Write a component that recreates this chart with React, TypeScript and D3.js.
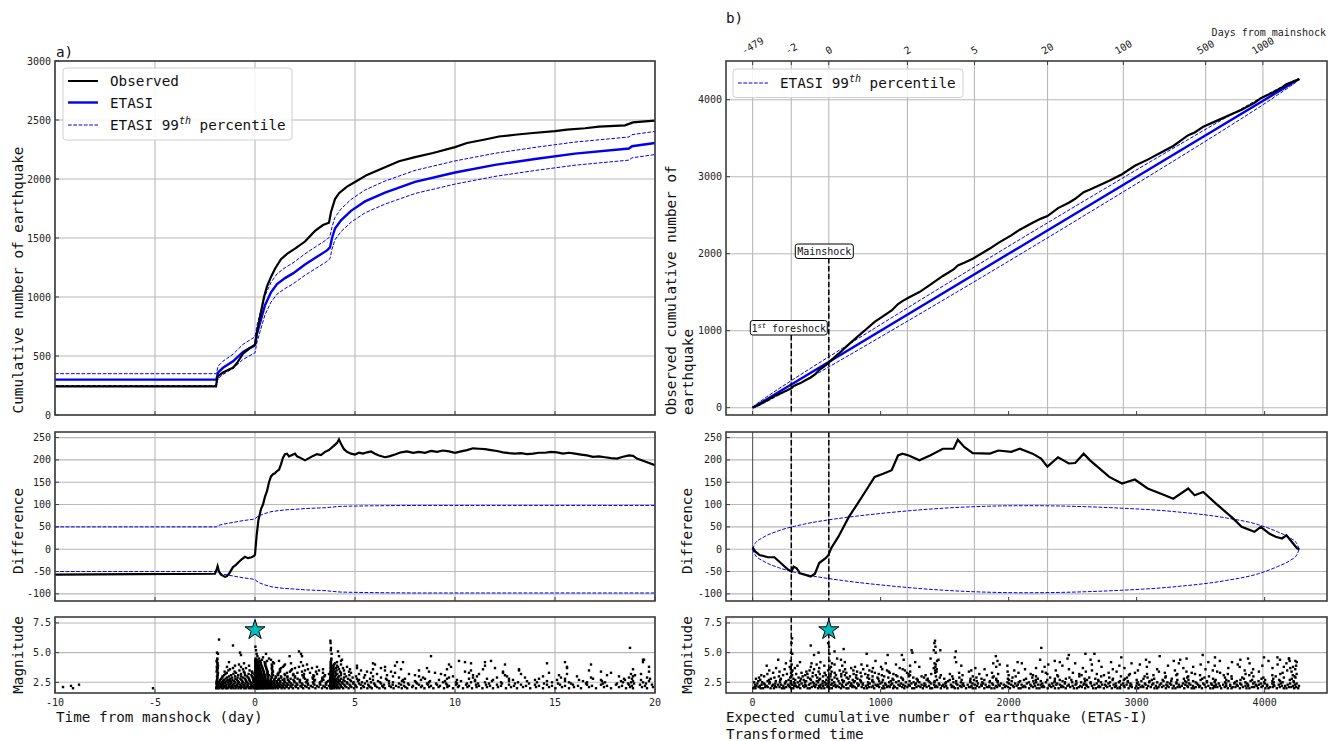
import React from "react";
import * as d3 from "d3";

// ---------------- DATA ----------------
// Panel a) top: cumulative counts vs time from mainshock (days)
const leftObsT = [-10, -1.95, -1.9, -1.85, -1.6, -1.3, -1.1, -0.9, -0.6, -0.3, -0.05, 0, 0.1, 0.25, 0.45, 0.6, 0.8, 1.0, 1.3, 1.6, 2.0, 2.5, 3.0, 3.4, 3.7, 3.8, 4.0, 4.2, 4.6, 5.0, 5.6, 6.5, 7.2, 8.0, 8.9, 10.0, 10.6, 11.5, 12.2, 13.0, 13.9, 15.0, 15.6, 16.5, 17.2, 18.5, 18.9, 19.5, 20];
const leftObsN = [242, 242, 300, 330, 360, 385, 400, 440, 520, 560, 585, 595, 700, 830, 1000, 1090, 1170, 1240, 1320, 1365, 1410, 1470, 1560, 1610, 1630, 1720, 1830, 1880, 1935, 1975, 2035, 2100, 2150, 2185, 2220, 2270, 2305, 2335, 2360, 2375, 2390, 2405, 2418, 2430, 2444, 2455, 2480, 2488, 2495];
const leftEtasT = [-10, -2.0, -1.93, -1.85, -1.6, -1.1, -0.6, -0.1, 0, 0.1, 0.25, 0.5, 0.8, 1.1, 1.5, 1.9, 2.5, 3.0, 3.6, 3.75, 3.85, 4.0, 4.3, 4.8, 5.5, 6.5, 8.0, 10.0, 12.0, 14.0, 16.0, 18.7, 18.85, 20];
const leftEtasN = [300, 300, 300, 360, 400, 455, 535, 585, 595, 690, 780, 930, 1040, 1110, 1160, 1200, 1275, 1330, 1395, 1420, 1500, 1580, 1650, 1730, 1810, 1885, 1975, 2055, 2120, 2170, 2215, 2258, 2278, 2305];
const leftBound = [50, 50, 50, 53, 56, 60, 64, 67, 68, 72, 76, 80, 84, 86, 88, 89, 91, 92, 93, 94, 94, 95, 96, 96.5, 97, 97.5, 98, 98, 98, 98, 98, 98, 98, 98];

// Panel a) middle: difference (observed - ETASI)
const leftDiffT = [-10, -6, -2.0, -1.92, -1.87, -1.8, -1.7, -1.5, -1.4, -1.3, -1.1, -0.95, -0.8, -0.65, -0.5, -0.35, -0.17, -0.05, 0, 0.08, 0.17, 0.3, 0.4, 0.5, 0.6, 0.7, 0.8, 0.9, 1.0, 1.1, 1.2, 1.3, 1.4, 1.5, 1.6, 1.7, 1.8, 1.9, 2.0, 2.1, 2.3, 2.5, 2.7, 2.9, 3.1, 3.3, 3.5, 3.7, 3.8, 3.95, 4.1, 4.2, 4.3, 4.45, 4.6, 4.8, 5.0, 5.2, 5.4, 5.6, 5.8, 6.0, 6.2, 6.5, 6.7, 7.0, 7.3, 7.6, 7.9, 8.2, 8.5, 8.8, 9.1, 9.4, 9.7, 10.0, 10.3, 10.6, 10.9, 11.2, 11.5, 11.8, 12.1, 12.4, 12.7, 13.0, 13.3, 13.6, 13.9, 14.2, 14.5, 14.8, 15.1, 15.4, 15.7, 16.0, 16.3, 16.6, 16.9, 17.2, 17.5, 17.8, 18.1, 18.4, 18.7, 18.9, 19.1, 19.4, 19.7, 20];
const leftDiffV = [-57, -56, -55, -46, -38, -50, -57, -62, -60, -55, -40, -35, -28, -22, -17, -20, -18, -15, -12, 30, 65, 90, 100, 118, 130, 150, 163, 168, 170, 175, 178, 190, 205, 213, 214, 208, 210, 212, 214, 208, 204, 199, 204, 209, 213, 211, 218, 222, 226, 232, 238, 246, 236, 224, 218, 214, 212, 216, 214, 217, 219, 214, 210, 206, 208, 212, 217, 219, 216, 218, 216, 220, 218, 221, 219, 216, 219, 222, 226, 225, 224, 222, 220, 217, 215, 214, 215, 213, 214, 216, 216, 218, 217, 214, 216, 214, 212, 210, 207, 208, 206, 204, 203, 207, 210, 209, 203, 198, 193, 188];

// Panel b): difference vs transformed time, and 99th percentile half-width
const rightDiffTau = [0, 20, 54, 120, 170, 220, 270, 304, 320, 344, 370, 420, 453, 487, 520, 570, 593, 613, 670, 753, 820, 887, 953, 1020, 1086, 1136, 1170, 1220, 1303, 1386, 1486, 1570, 1603, 1653, 1720, 1853, 1920, 2020, 2087, 2187, 2253, 2303, 2386, 2470, 2520, 2586, 2636, 2786, 2886, 2986, 3086, 3220, 3286, 3403, 3453, 3520, 3620, 3753, 3820, 3920, 3970, 4036, 4086, 4136, 4170, 4253, 4270];
const rightDiffV = [4, -5, -13, -18, -18, -31, -44, -50, -39, -43, -54, -58, -61, -55, -31, -20, -13, 2, 28, 73, 102, 132, 162, 169, 177, 210, 214, 210, 199, 210, 225, 225, 245, 229, 215, 214, 221, 218, 225, 214, 203, 185, 206, 192, 193, 214, 199, 162, 147, 156, 136, 121, 113, 136, 121, 128, 102, 69, 50, 39, 50, 35, 28, 24, 31, 2, 0];
const rightBoundTau = [0, 20, 80, 200, 400, 700, 1000, 1500, 2135, 2800, 3300, 3700, 3950, 4100, 4200, 4250, 4270];
const rightBoundV = [0, 13, 26, 41, 56, 70, 80, 92, 97.5, 93, 84, 70, 55, 39, 25, 13, 0];
const rightEtasTau = [0, 4270];

// Top axis of panel b): days from mainshock and their transformed-time positions
const daysTickLabels = ["-479", "-2", "0", "2", "5", "20", "100", "500", "1000"];
const daysTickTau = [0, 302, 595, 1209, 1733, 2304, 2896, 3539, 3986];
const foreshockTau = 302;
const mainshockTau = 595;
const mainshockTime = 0;
const mainshockMag = 6.9;

// Earthquake magnitudes (catalog resolution 0.1)
const magLevels = [2.0, 2.1, 2.2, 2.3, 2.4, 2.5, 2.6, 2.7, 2.8, 2.9, 3.0, 3.1, 3.2, 3.3, 3.4, 3.5, 3.6, 3.7, 3.8, 3.9, 4.0, 4.1, 4.2, 4.3, 4.4, 4.5];
const leftTimesByLevel: number[][] = [
  [-9.1, -5.1, -1.94, -1.87, -1.79, -1.66, -1.58, -1.44, -1.37, -1.21, -1.08, -0.97, -0.83, -0.71, -0.55, -0.46, -0.31, -0.19, -0.07, 0.02, 0.05, 0.09, 0.12, 0.17, 0.21, 0.28, 0.34, 0.39, 0.47, 0.55, 0.62, 0.7, 0.81, 0.9, 1.02, 1.15, 1.33, 1.48, 1.69, 1.9, 2.16, 2.41, 2.7, 3.02, 3.35, 3.6, 3.77, 3.8, 3.86, 3.95, 4.08, 4.22, 4.41, 4.68, 4.95, 5.31, 5.62, 5.84, 6.22, 6.5, 6.93, 7.34, 7.61, 8.05, 8.47, 8.92, 9.45, 9.9, 10.4, 10.85, 11.37, 11.9, 12.55, 13.1, 13.76, 14.4, 15.02, 15.7, 16.3, 17.05, 17.8, 18.55, 18.9, 19.6],
  [-9.6, -1.92, -1.84, -1.74, -1.63, -1.52, -1.33, -1.25, -1.12, -0.94, -0.78, -0.63, -0.42, -0.24, -0.1, 0.01, 0.03, 0.07, 0.1, 0.15, 0.19, 0.24, 0.3, 0.36, 0.44, 0.51, 0.58, 0.66, 0.76, 0.86, 0.98, 1.09, 1.24, 1.41, 1.59, 1.82, 2.05, 2.33, 2.58, 2.88, 3.18, 3.49, 3.76, 3.79, 3.84, 3.91, 4.02, 4.15, 4.33, 4.57, 4.82, 5.08, 5.45, 5.77, 6.1, 6.41, 6.8, 7.18, 7.52, 7.86, 8.3, 8.71, 9.18, 9.62, 10.15, 10.62, 11.08, 11.6, 12.15, 12.8, 13.4, 14.05, 14.7, 15.35, 15.95, 16.7, 17.45, 18.2, 18.75, 19.35, 19.9],
  [-9.2, -1.91, -1.82, -1.69, -1.55, -1.46, -1.29, -1.15, -1.0, -0.88, -0.69, -0.52, -0.36, -0.15, 0.0, 0.04, 0.06, 0.11, 0.14, 0.2, 0.25, 0.31, 0.38, 0.45, 0.53, 0.6, 0.68, 0.79, 0.93, 1.06, 1.2, 1.37, 1.55, 1.77, 2.02, 2.27, 2.51, 2.79, 3.1, 3.42, 3.7, 3.78, 3.83, 3.89, 3.99, 4.12, 4.29, 4.5, 4.77, 5.03, 5.4, 5.7, 6.02, 6.36, 6.72, 7.05, 7.45, 7.9, 8.35, 8.8, 9.25, 9.7, 10.2, 10.7, 11.2, 11.75, 12.3, 12.95, 13.55, 14.2, 14.85, 15.5, 16.15, 16.85, 17.6, 18.35, 18.85, 19.5],
  [-8.8, -1.9, -1.81, -1.7, -1.59, -1.42, -1.27, -1.1, -0.9, -0.74, -0.58, -0.38, -0.21, -0.04, 0.02, 0.05, 0.1, 0.13, 0.18, 0.23, 0.29, 0.35, 0.42, 0.5, 0.57, 0.65, 0.74, 0.85, 0.99, 1.13, 1.28, 1.46, 1.66, 1.88, 2.12, 2.38, 2.66, 2.97, 3.27, 3.56, 3.77, 3.81, 3.87, 3.96, 4.1, 4.27, 4.47, 4.73, 5.0, 5.28, 5.66, 6.0, 6.45, 6.88, 7.3, 7.7, 8.2, 8.65, 9.1, 9.6, 10.05, 10.55, 11.05, 11.55, 12.1, 12.7, 13.3, 14.0, 14.6, 15.25, 15.9, 16.6, 17.3, 18.05, 18.7, 19.25, 19.85],
  [-1.93, -1.83, -1.72, -1.61, -1.48, -1.31, -1.19, -1.03, -0.86, -0.67, -0.49, -0.33, -0.16, 0.01, 0.04, 0.08, 0.12, 0.16, 0.22, 0.27, 0.33, 0.4, 0.48, 0.56, 0.64, 0.72, 0.83, 0.95, 1.08, 1.22, 1.4, 1.6, 1.8, 2.08, 2.35, 2.64, 2.92, 3.24, 3.54, 3.76, 3.8, 3.85, 3.93, 4.04, 4.2, 4.38, 4.62, 4.9, 5.2, 5.5, 5.95, 6.3, 6.7, 7.2, 7.65, 8.1, 8.6, 9.05, 9.55, 10.1, 10.6, 11.15, 11.7, 12.35, 13.0, 13.7, 14.45, 15.15, 15.8, 16.55, 17.4, 18.1, 18.65, 18.95, 19.55],
  [-1.92, -1.8, -1.65, -1.51, -1.36, -1.18, -0.99, -0.81, -0.6, -0.41, -0.22, -0.06, 0.02, 0.06, 0.09, 0.14, 0.19, 0.26, 0.32, 0.41, 0.49, 0.59, 0.69, 0.8, 0.94, 1.1, 1.27, 1.5, 1.73, 1.98, 2.25, 2.55, 2.9, 3.25, 3.58, 3.77, 3.83, 3.9, 4.0, 4.14, 4.35, 4.6, 4.93, 5.35, 5.8, 6.25, 6.9, 7.45, 8.05, 8.7, 9.4, 10.05, 10.8, 11.5, 12.3, 13.15, 14.1, 14.85, 15.7, 16.6, 17.5, 18.4, 18.8, 19.4],
  [-1.91, -1.77, -1.6, -1.43, -1.24, -1.05, -0.85, -0.64, -0.44, -0.26, -0.08, 0.01, 0.05, 0.1, 0.15, 0.21, 0.28, 0.37, 0.46, 0.55, 0.66, 0.78, 0.92, 1.07, 1.25, 1.47, 1.7, 1.96, 2.24, 2.6, 2.96, 3.33, 3.65, 3.79, 3.86, 3.95, 4.07, 4.24, 4.48, 4.8, 5.15, 5.6, 6.15, 6.7, 7.35, 8.0, 8.75, 9.5, 10.3, 11.0, 11.85, 12.7, 13.6, 14.6, 15.5, 16.4, 17.35, 18.3, 18.9, 19.7],
  [-1.9, -1.74, -1.56, -1.34, -1.13, -0.9, -0.68, -0.47, -0.28, -0.09, 0.02, 0.07, 0.12, 0.18, 0.25, 0.34, 0.43, 0.53, 0.65, 0.79, 0.96, 1.16, 1.38, 1.64, 1.92, 2.25, 2.62, 3.0, 3.42, 3.74, 3.82, 3.9, 4.01, 4.18, 4.42, 4.75, 5.2, 5.9, 6.6, 7.4, 8.3, 9.2, 10.1, 11.0, 11.9, 12.9, 14.0, 15.1, 16.2, 17.3, 18.5, 19.3],
  [-1.89, -1.69, -1.47, -1.25, -0.98, -0.73, -0.5, -0.3, -0.1, 0.01, 0.04, 0.09, 0.16, 0.23, 0.31, 0.41, 0.52, 0.65, 0.8, 0.98, 1.2, 1.47, 1.78, 2.13, 2.5, 2.9, 3.36, 3.76, 3.84, 3.94, 4.08, 4.3, 4.65, 5.1, 5.75, 6.55, 7.5, 8.5, 9.6, 10.7, 11.6, 12.7, 14.2, 15.5, 16.9, 18.45, 18.85, 19.75],
  [-1.88, -1.64, -1.4, -1.14, -0.87, -0.59, -0.33, -0.11, 0.03, 0.08, 0.13, 0.2, 0.29, 0.39, 0.51, 0.66, 0.84, 1.05, 1.31, 1.62, 2.0, 2.43, 2.88, 3.38, 3.77, 3.86, 3.97, 4.15, 4.45, 4.88, 5.45, 6.3, 7.2, 8.4, 9.7, 10.9, 12.1, 13.5, 15.3, 16.8, 18.7, 19.6],
  [-1.9, -1.62, -1.3, -0.99, -0.7, -0.4, -0.14, 0.02, 0.06, 0.12, 0.19, 0.28, 0.38, 0.5, 0.64, 0.82, 1.03, 1.3, 1.62, 2.0, 2.44, 2.95, 3.47, 3.78, 3.87, 3.99, 4.2, 4.55, 5.05, 5.9, 6.9, 8.2, 9.9, 11.1, 12.6, 14.4, 16.1, 18.2, 18.9],
  [-1.86, -1.55, -1.2, -0.84, -0.5, -0.18, 0.01, 0.05, 0.11, 0.18, 0.27, 0.38, 0.52, 0.69, 0.9, 1.16, 1.5, 1.9, 2.37, 2.92, 3.5, 3.79, 3.9, 4.05, 4.3, 4.72, 5.5, 6.6, 8.0, 9.5, 10.9, 12.5, 15.2, 17.6, 19.0],
  [-1.87, -1.48, -1.08, -0.7, -0.32, -0.03, 0.03, 0.08, 0.14, 0.22, 0.33, 0.46, 0.63, 0.85, 1.13, 1.48, 1.92, 2.45, 3.1, 3.7, 3.8, 3.92, 4.12, 4.48, 5.2, 6.1, 7.7, 9.3, 11.2, 13.3, 15.6, 18.8, 19.3],
  [-1.85, -1.41, -0.95, -0.52, -0.13, 0.02, 0.07, 0.13, 0.21, 0.31, 0.45, 0.62, 0.86, 1.18, 1.6, 2.12, 2.75, 3.4, 3.78, 3.88, 4.03, 4.3, 4.8, 5.8, 7.0, 9.0, 10.7, 12.4, 14.7, 17.8],
  [-1.92, -1.52, -1.02, -0.56, -0.15, 0.01, 0.06, 0.12, 0.2, 0.3, 0.44, 0.63, 0.9, 1.25, 1.75, 2.35, 3.05, 3.77, 3.86, 3.99, 4.25, 4.7, 5.6, 6.8, 8.7, 10.5, 12.4, 17.3, 19.7],
  [-1.88, -1.33, -0.78, -0.27, 0.02, 0.05, 0.1, 0.17, 0.27, 0.41, 0.6, 0.87, 1.25, 1.8, 2.5, 3.2, 3.79, 3.9, 4.08, 4.45, 5.3, 6.5, 8.2, 10.8, 13.2, 16.7],
  [-1.9, -1.25, -0.6, 0.03, 0.08, 0.15, 0.25, 0.39, 0.58, 0.85, 1.25, 1.85, 2.65, 3.4, 3.8, 3.95, 4.2, 4.75, 5.9, 7.3, 9.6, 11.4, 13.2, 18.9],
  [-1.86, -1.1, -0.45, 0.02, 0.07, 0.13, 0.23, 0.37, 0.56, 0.84, 1.3, 2.0, 2.85, 3.78, 3.88, 4.05, 4.4, 5.1, 6.3, 8.6, 12.0, 15.6],
  [-1.91, -1.4, -0.7, 0.01, 0.06, 0.12, 0.21, 0.35, 0.55, 0.86, 1.4, 2.2, 3.1, 3.79, 3.93, 4.15, 4.6, 6.5, 9.8, 15.6, 19.7],
  [-1.85, -1.0, -0.3, 0.02, 0.05, 0.11, 0.19, 0.32, 0.52, 0.85, 1.45, 2.4, 3.8, 3.9, 4.1, 5.1, 7.0, 11.5],
  [-1.88, -0.8, 0.03, 0.09, 0.17, 0.3, 0.5, 0.84, 1.5, 2.6, 3.78, 3.95, 4.3, 6.0, 9.7, 12.5, 16.8],
  [-1.87, -0.55, 0.02, 0.08, 0.16, 0.29, 0.52, 0.95, 1.8, 3.8, 4.0, 5.9, 10.8, 14.6],
  [-1.9, -1.3, 0.01, 0.06, 0.14, 0.27, 0.48, 0.9, 2.3, 3.79, 4.1, 7.1, 7.4, 10.5, 11.5, 15.5, 19.4],
  [-1.92, 0.04, 0.12, 0.25, 0.6, 1.2, 3.8, 4.3, 10.2, 11.8],
  [-1.89, 0.02, 0.1, 0.35, 0.8, 3.81, 4.35, 19.4],
  [-1.88, 0.03, 0.2, 0.7, 3.82],
];
const leftLargeQuakes: [number, number][] = [[-1.9, 5.0], [-1.85, 4.9], [-1.8, 6.1], [-1.1, 5.6], [-0.75, 5.0], [-0.7, 4.8], [0.02, 5.5], [0.05, 5.2], [0.08, 4.9], [0.12, 4.7], [0.4, 4.6], [0.55, 4.9], [1.73, 4.7], [2.2, 5.1], [2.3, 4.9], [2.35, 4.7], [3.77, 6.0], [3.78, 5.8], [3.8, 5.4], [3.79, 5.2], [3.83, 4.9], [4.15, 5.1], [4.2, 4.7], [8.8, 4.7], [18.75, 5.4], [19.45, 4.4]];

const rightTausByLevel: number[][] = [
  [5, 22, 63, 81, 140, 166, 229, 247, 301, 318, 372, 430, 446, 512, 538, 560, 601, 619, 690, 733, 748, 810, 871, 893, 950, 1013, 1029, 1098, 1130, 1185, 1247, 1262, 1330, 1388, 1402, 1470, 1521, 1580, 1604, 1667, 1720, 1741, 1810, 1866, 1889, 1952, 2010, 2078, 2093, 2160, 2219, 2240, 2305, 2362, 2390, 2446, 2510, 2533, 2598, 2660, 2681, 2744, 2806, 2850, 2871, 2937, 2990, 3012, 3080, 3139, 3160, 3228, 3281, 3303, 3372, 3430, 3449, 3510, 3575, 3596, 3660, 3712, 3741, 3806, 3858, 3881, 3948, 4006, 4030, 4095, 4149, 4170, 4231, 4262],
  [14, 48, 99, 118, 185, 210, 262, 290, 345, 358, 404, 462, 489, 527, 584, 596, 650, 674, 711, 779, 797, 852, 908, 929, 988, 1050, 1071, 1112, 1168, 1209, 1280, 1311, 1359, 1425, 1443, 1498, 1555, 1572, 1632, 1690, 1702, 1771, 1830, 1848, 1910, 1971, 1995, 2040, 2110, 2131, 2190, 2258, 2277, 2333, 2410, 2428, 2481, 2548, 2572, 2622, 2700, 2715, 2770, 2830, 2868, 2905, 2962, 3031, 3052, 3110, 3171, 3198, 3250, 3320, 3338, 3401, 3461, 3488, 3539, 3611, 3630, 3688, 3750, 3772, 3830, 3901, 3918, 3975, 4041, 4063, 4118, 4190, 4208, 4245],
  [30, 55, 110, 152, 174, 240, 283, 325, 338, 395, 418, 478, 520, 551, 590, 632, 662, 701, 764, 786, 825, 884, 940, 971, 1022, 1061, 1104, 1150, 1191, 1228, 1296, 1340, 1378, 1433, 1480, 1512, 1560, 1620, 1651, 1710, 1752, 1790, 1848, 1900, 1930, 1980, 2035, 2062, 2122, 2177, 2206, 2270, 2320, 2349, 2418, 2460, 2500, 2560, 2610, 2651, 2705, 2760, 2790, 2840, 2900, 2948, 2998, 3045, 3090, 3150, 3210, 3240, 3290, 3352, 3396, 3440, 3495, 3560, 3604, 3650, 3700, 3731, 3790, 3850, 3871, 3938, 3985, 4018, 4076, 4135, 4160, 4222, 4268],
  [19, 70, 96, 160, 200, 222, 276, 311, 365, 411, 440, 497, 531, 570, 612, 645, 697, 730, 771, 830, 860, 900, 960, 981, 1041, 1080, 1139, 1176, 1219, 1270, 1320, 1350, 1418, 1460, 1490, 1548, 1600, 1640, 1680, 1735, 1786, 1820, 1877, 1921, 1962, 2020, 2072, 2101, 2170, 2230, 2250, 2318, 2372, 2401, 2470, 2522, 2585, 2606, 2670, 2730, 2752, 2820, 2880, 2921, 2958, 3020, 3070, 3121, 3180, 3232, 3270, 3330, 3380, 3420, 3480, 3530, 3587, 3620, 3676, 3730, 3782, 3818, 3870, 3930, 3955, 4020, 4070, 4110, 4180, 4239],
  [37, 89, 131, 178, 252, 296, 331, 383, 452, 480, 546, 579, 622, 680, 742, 770, 818, 862, 915, 998, 1035, 1091, 1159, 1240, 1276, 1342, 1395, 1455, 1505, 1591, 1645, 1718, 1760, 1801, 1872, 1940, 2002, 2051, 2142, 2199, 2263, 2340, 2380, 2439, 2530, 2591, 2641, 2689, 2779, 2836, 2895, 2951, 3002, 3064, 3130, 3191, 3259, 3311, 3362, 3410, 3470, 3520, 3582, 3641, 3699, 3762, 3809, 3862, 3910, 3970, 4001, 4060, 4127, 4199, 4250],
  [12, 75, 134, 213, 257, 322, 352, 408, 470, 511, 563, 598, 637, 706, 755, 791, 848, 902, 944, 1011, 1067, 1121, 1197, 1258, 1303, 1383, 1420, 1511, 1569, 1627, 1702, 1794, 1852, 1914, 1991, 2079, 2158, 2215, 2291, 2358, 2440, 2497, 2566, 2640, 2721, 2792, 2861, 2931, 3008, 3098, 3160, 3240, 3311, 3389, 3461, 3549, 3610, 3691, 3769, 3849, 3921, 3996, 4071, 4140, 4228],
  [44, 117, 181, 262, 299, 371, 418, 501, 548, 593, 671, 713, 799, 845, 934, 988, 1079, 1141, 1226, 1290, 1375, 1422, 1527, 1590, 1699, 1751, 1853, 1915, 2024, 2090, 2193, 2251, 2360, 2421, 2528, 2597, 2702, 2760, 2869, 2931, 3037, 3101, 3210, 3270, 3378, 3441, 3549, 3611, 3718, 3782, 3890, 3952, 4060, 4121, 4226],
  [60, 128, 216, 281, 333, 399, 456, 519, 576, 620, 700, 782, 840, 936, 1018, 1100, 1175, 1290, 1360, 1440, 1540, 1633, 1730, 1810, 1903, 2003, 2120, 2212, 2302, 2399, 2490, 2612, 2700, 2812, 2900, 3000, 3119, 3203, 3318, 3405, 3500, 3617, 3700, 3811, 3902, 4004, 4113, 4197],
  [26, 143, 221, 319, 377, 449, 527, 599, 661, 748, 819, 910, 982, 1093, 1172, 1281, 1368, 1497, 1566, 1702, 1788, 1903, 1994, 2136, 2228, 2361, 2447, 2593, 2677, 2815, 2909, 3053, 3137, 3274, 3369, 3512, 3597, 3743, 3838, 3975, 4067, 4212],
  [50, 170, 294, 359, 432, 505, 588, 640, 735, 808, 897, 975, 1060, 1160, 1255, 1339, 1462, 1615, 1748, 1875, 2030, 2185, 2324, 2475, 2630, 2786, 2925, 3085, 3224, 3395, 3530, 3690, 3825, 3990, 4150, 4241],
  [90, 205, 302, 391, 468, 550, 608, 692, 760, 850, 937, 1028, 1131, 1219, 1320, 1432, 1560, 1720, 1883, 2055, 2214, 2386, 2552, 2723, 2877, 3062, 3228, 3403, 3565, 3741, 3912, 4086, 4233],
  [68, 238, 309, 411, 494, 571, 651, 721, 810, 903, 1009, 1120, 1230, 1351, 1470, 1640, 1830, 2000, 2190, 2380, 2570, 2745, 2940, 3131, 3310, 3495, 3680, 3880, 4060, 4220],
  [115, 268, 340, 428, 525, 610, 693, 789, 880, 985, 1100, 1218, 1395, 1541, 1771, 1918, 2172, 2302, 2552, 2689, 2947, 3081, 3318, 3456, 3712, 3851, 4122, 4250],
  [160, 300, 382, 470, 562, 641, 732, 843, 955, 1071, 1206, 1426, 1613, 1870, 2077, 2290, 2502, 2781, 2987, 3220, 3430, 3652, 3898, 4140],
  [210, 306, 420, 515, 617, 709, 816, 932, 1063, 1231, 1437, 1690, 1992, 2263, 2603, 2843, 3174, 3389, 3629, 3955, 4210],
  [130, 312, 445, 590, 680, 787, 912, 1050, 1190, 1425, 1708, 2044, 2368, 2651, 3010, 3299, 3595, 3844, 4176],
  [250, 298, 480, 598, 722, 864, 1013, 1172, 1438, 1812, 2128, 2471, 2814, 3160, 3538, 3910, 4239],
  [183, 330, 520, 603, 770, 940, 1149, 1415, 1740, 2214, 2580, 2905, 3365, 3716, 4061, 4200],
  [290, 455, 612, 800, 1003, 1302, 1428, 1903, 2281, 2726, 3080, 3442, 3805, 4150, 4222],
  [110, 350, 560, 700, 895, 1230, 1630, 1990, 2420, 2865, 3245, 3610, 3982, 4246],
  [305, 500, 640, 850, 1120, 1430, 1930, 2310, 2650, 3025, 3500, 3790, 4101],
  [260, 460, 620, 1040, 1421, 1880, 2103, 2520, 2960, 3330, 3882, 4170],
  [370, 530, 720, 1270, 1590, 2070, 2400, 2800, 3100, 3560, 3745, 4251],
  [297, 600, 960, 1441, 1913, 2360, 2705, 3290, 3650, 4030, 4195],
  [200, 690, 1180, 1452, 2246, 2640, 3073, 3340, 3810, 4120],
  [660, 1390, 2460, 3390, 3870, 4190],
];
const rightLargeQuakes: [number, number][] = [[308, 6.2], [304, 5.8], [300, 5.0], [310, 4.9], [454, 5.6], [515, 5.0], [590, 5.8], [597, 5.5], [600, 4.9], [640, 5.1], [711, 5.3], [891, 4.9], [1166, 4.8], [1242, 5.2], [1248, 5.0], [1425, 6.0], [1420, 5.8], [1428, 5.5], [1415, 5.2], [1430, 5.0], [1466, 5.2], [1587, 5.1], [1900, 4.7], [2255, 5.4], [2600, 4.9], [2670, 4.9], [3180, 4.7], [3516, 4.8], [4100, 4.6], [4190, 4.5], [4240, 4.3], [1580, 4.6], [2880, 4.6], [3612, 4.6], [3995, 4.6], [480, 4.8], [1055, 4.8], [2470, 4.8]];

// Tick values
const leftTopYTicks = [0, 500, 1000, 1500, 2000, 2500, 3000];
const rightTopYTicks = [0, 1000, 2000, 3000, 4000];
const diffTicks = [-100, -50, 0, 50, 100, 150, 200, 250];
const magTicks = [2.5, 5.0, 7.5];
const leftXTicks = [-10, -5, 0, 5, 10, 15, 20];
const rightXTicks = [0, 1000, 2000, 3000, 4000];

// ---------------- DRAWING ----------------
const MONO = "'DejaVu Sans Mono', monospace";
const GRID = "#b8b8b8";
const FRAME = "#3c3c3c";
const BLUE = "#0000ee";
const DASH = "3.7,1.6";
const VDASH = "5.5,2.4";

type P = [number, number];

export default function App() {
  const LX: P = [55, 655];
  const RX: P = [726, 1327];
  const TOP: P = [61, 415];
  const MID: P = [432, 601];
  const BOT: P = [617, 693];

  const xL = d3.scaleLinear().domain([-10, 20]).range(LX);
  const xR = d3.scaleLinear().domain([-208, 4487]).range(RX);
  const yTopL = d3.scaleLinear().domain([0, 3000]).range([TOP[1], TOP[0]]);
  const yTopR = d3.scaleLinear().domain([-95, 4503]).range([TOP[1], TOP[0]]);
  const yMid = d3.scaleLinear().domain([-116, 262.5]).range([MID[1], MID[0]]);
  const yMag = d3.scaleLinear().domain([1.6, 8.0]).range([BOT[1], BOT[0]]);

  const mk = (x: d3.ScaleLinear<number, number>, y: d3.ScaleLinear<number, number>, curve?: d3.CurveFactory) => {
    const g = d3.line<P>().x((d) => x(d[0])).y((d) => y(d[1]));
    if (curve) g.curve(curve);
    return g;
  };

  // left series
  const leftObs: P[] = leftObsT.map((t, i) => [t, leftObsN[i]]);
  const leftEtas: P[] = leftEtasT.map((t, i) => [t, leftEtasN[i]]);
  const leftEtasUp: P[] = leftEtasT.map((t, i) => [t, leftEtasN[i] + leftBound[i]]);
  const leftEtasLo: P[] = leftEtasT.map((t, i) => [t, leftEtasN[i] - leftBound[i]]);
  const leftDiff: P[] = leftDiffT.map((t, i) => [t, leftDiffV[i]]);
  const leftBUp: P[] = leftEtasT.map((t, i) => [t, leftBound[i]]);
  const leftBLo: P[] = leftEtasT.map((t, i) => [t, -leftBound[i]]);

  // right series
  const rightDiff: P[] = rightDiffTau.map((t, i) => [t, rightDiffV[i]]);
  const rightObs: P[] = rightDiffTau.map((t, i) => [t, t + rightDiffV[i]]);
  const rightBUp: P[] = rightBoundTau.map((t, i) => [t, rightBoundV[i]]);
  const rightBLo: P[] = rightBoundTau.map((t, i) => [t, -rightBoundV[i]]);
  const rightEtasUp: P[] = rightBoundTau.map((t, i) => [t, t + rightBoundV[i]]);
  const rightEtasLo: P[] = rightBoundTau.map((t, i) => [t, t - rightBoundV[i]]);
  const rightEtas: P[] = rightEtasTau.map((t) => [t, t]);

  const leftQuakes: P[] = leftTimesByLevel.flatMap((arr, k) => arr.map((t) => [t, magLevels[k]] as P)).concat(leftLargeQuakes);
  const rightQuakes: P[] = rightTausByLevel.flatMap((arr, k) => arr.map((t) => [t, magLevels[k]] as P)).concat(rightLargeQuakes);

  const star = d3.symbol().type(d3.symbolStar).size(125)() as string;

  const frame = (xr: P, yr: P, key: string) => (
    <rect key={key} x={xr[0]} y={yr[0]} width={xr[1] - xr[0]} height={yr[1] - yr[0]} fill="none" stroke={FRAME} strokeWidth={1.6} />
  );
  const hGrid = (xr: P, y: d3.ScaleLinear<number, number>, ticks: number[], key: string) =>
    ticks.map((v) => <line key={key + v} x1={xr[0]} x2={xr[1]} y1={y(v)} y2={y(v)} stroke={GRID} strokeWidth={1.1} />);
  const vGrid = (x: (v: number) => number, yr: P, ticks: number[], key: string, color = GRID) =>
    ticks.map((v, i) => <line key={key + i} x1={x(v)} x2={x(v)} y1={yr[0]} y2={yr[1]} stroke={color} strokeWidth={1.1} />);
  const yTicks = (xr: P, y: d3.ScaleLinear<number, number>, ticks: number[], key: string, fmt: (v: number) => string) =>
    ticks.map((v) => (
      <g key={key + v}>
        <line x1={xr[0]} x2={xr[0] + 4} y1={y(v)} y2={y(v)} stroke={FRAME} strokeWidth={1} />
        <text x={xr[0] - 4} y={y(v)} textAnchor="end" dominantBaseline="central" fontFamily={MONO} fontSize={10} fill="#222">{fmt(v)}</text>
      </g>
    ));
  const xTickMarks = (x: (v: number) => number, yr: P, ticks: number[], key: string, top = false) =>
    ticks.map((v, i) => (
      <line key={key + i} x1={x(v)} x2={x(v)} y1={top ? yr[0] : yr[1]} y2={top ? yr[0] + 4 : yr[1] - 4} stroke={FRAME} strokeWidth={1} />
    ));
  const xLabels = (x: (v: number) => number, ticks: number[], key: string) =>
    ticks.map((v) => (
      <text key={key + v} x={x(v)} y={706} textAnchor="middle" fontFamily={MONO} fontSize={10} fill="#222">{String(v)}</text>
    ));
  const dots = (pts: P[], x: (v: number) => number, key: string) =>
    pts.map((d, i) => <rect key={key + i} x={x(d[0]) - 1.2} y={yMag(d[1]) - 1.2} width={2.4} height={2.4} fill="#000" />);

  const fmtInt = (v: number) => String(v);
  const fmtMag = (v: number) => v.toFixed(1);

  const msX = xR(mainshockTau);
  const fsX = xR(foreshockTau);

  return (
    <svg width={1336} height={741} style={{ position: "absolute", left: 0, top: 0, background: "#fff" }}>
      <defs>
        <clipPath id="cTL"><rect x={LX[0]} y={TOP[0]} width={LX[1] - LX[0]} height={TOP[1] - TOP[0]} /></clipPath>
        <clipPath id="cML"><rect x={LX[0]} y={MID[0]} width={LX[1] - LX[0]} height={MID[1] - MID[0]} /></clipPath>
        <clipPath id="cBL"><rect x={LX[0]} y={BOT[0]} width={LX[1] - LX[0]} height={BOT[1] - BOT[0]} /></clipPath>
        <clipPath id="cTR"><rect x={RX[0]} y={TOP[0]} width={RX[1] - RX[0]} height={TOP[1] - TOP[0]} /></clipPath>
        <clipPath id="cMR"><rect x={RX[0]} y={MID[0]} width={RX[1] - RX[0]} height={MID[1] - MID[0]} /></clipPath>
        <clipPath id="cBR"><rect x={RX[0]} y={BOT[0]} width={RX[1] - RX[0]} height={BOT[1] - BOT[0]} /></clipPath>
      </defs>
      <rect x={0} y={0} width={1336} height={741} fill="#fff" />

      {/* ---------- LEFT TOP ---------- */}
      {hGrid(LX, yTopL, leftTopYTicks, "gtl")}
      {vGrid(xL, TOP, leftXTicks, "vtl")}
      <g clipPath="url(#cTL)" fill="none">
        <path d={mk(xL, yTopL)(leftEtasUp) || ""} stroke={BLUE} strokeWidth={1} strokeDasharray={DASH} />
        <path d={mk(xL, yTopL)(leftEtasLo) || ""} stroke={BLUE} strokeWidth={1} strokeDasharray={DASH} />
        <path d={mk(xL, yTopL)(leftEtas) || ""} stroke={BLUE} strokeWidth={2.4} />
        <path d={mk(xL, yTopL)(leftObs) || ""} stroke="#000" strokeWidth={2.2} />
      </g>
      {yTicks(LX, yTopL, leftTopYTicks, "ytl", fmtInt)}
      {xTickMarks(xL, TOP, leftXTicks, "xtl")}
      {frame(LX, TOP, "ftl")}
      {/* legend a */}
      <g>
        <rect x={63} y={68} width={229} height={72} rx={3} fill="#fff" fillOpacity={0.85} stroke="#d0d0d0" strokeWidth={1} />
        <line x1={68} x2={98} y1={81} y2={81} stroke="#000" strokeWidth={2} />
        <line x1={68} x2={98} y1={102.5} y2={102.5} stroke={BLUE} strokeWidth={2.4} />
        <line x1={68} x2={98} y1={125} y2={125} stroke={BLUE} strokeWidth={1} strokeDasharray={DASH} />
        <text x={110} y={81} dominantBaseline="central" fontFamily={MONO} fontSize={14.3} fill="#111">Observed</text>
        <text x={110} y={102.5} dominantBaseline="central" fontFamily={MONO} fontSize={14.3} fill="#111">ETASI</text>
        <text x={110} y={130} fontFamily={MONO} fontSize={14.3} fill="#111">
          ETASI 99<tspan dy={-6} fontSize={10} fontStyle="italic">th</tspan><tspan dy={6}> percentile</tspan>
        </text>
      </g>
      <text x={56} y={57} fontFamily={MONO} fontSize={14.3} fill="#111">a)</text>
      <text x={18} y={280} transform="rotate(-90 18 280)" textAnchor="middle" dominantBaseline="central" fontFamily={MONO} fontSize={14.3} fill="#111">Cumulative number of earthquake</text>

      {/* ---------- LEFT MIDDLE ---------- */}
      {hGrid(LX, yMid, diffTicks, "gml")}
      {vGrid(xL, MID, leftXTicks, "vml")}
      <g clipPath="url(#cML)" fill="none">
        <path d={mk(xL, yMid)(leftBUp) || ""} stroke={BLUE} strokeWidth={1} strokeDasharray={DASH} />
        <path d={mk(xL, yMid)(leftBLo) || ""} stroke={BLUE} strokeWidth={1} strokeDasharray={DASH} />
        <path d={mk(xL, yMid)(leftDiff) || ""} stroke="#000" strokeWidth={2.2} />
      </g>
      {yTicks(LX, yMid, diffTicks, "yml", fmtInt)}
      {xTickMarks(xL, MID, leftXTicks, "xml")}
      {frame(LX, MID, "fml")}
      <text x={18} y={531} transform="rotate(-90 18 531)" textAnchor="middle" dominantBaseline="central" fontFamily={MONO} fontSize={14.3} fill="#111">Difference</text>

      {/* ---------- LEFT BOTTOM ---------- */}
      {hGrid(LX, yMag, magTicks, "gbl")}
      {vGrid(xL, BOT, leftXTicks, "vbl")}
      <g clipPath="url(#cBL)">
        {dots(leftQuakes, xL, "ql")}
        <path d={star} transform={`translate(${xL(mainshockTime)},${yMag(mainshockMag)})`} fill="#00bcbc" stroke="#000" strokeWidth={1} />
      </g>
      {yTicks(LX, yMag, magTicks, "ybl", fmtMag)}
      {xTickMarks(xL, BOT, leftXTicks, "xbl")}
      {frame(LX, BOT, "fbl")}
      {xLabels(xL, leftXTicks, "lxl")}
      <text x={18} y={655} transform="rotate(-90 18 655)" textAnchor="middle" dominantBaseline="central" fontFamily={MONO} fontSize={14.3} fill="#111">Magnitude</text>
      <text x={56} y={722} fontFamily={MONO} fontSize={14.3} fill="#111">Time from manshock (day)</text>

      {/* ---------- RIGHT TOP ---------- */}
      {hGrid(RX, yTopR, rightTopYTicks, "gtr")}
      {vGrid(xR, TOP, daysTickTau, "vtr")}
      <g clipPath="url(#cTR)" fill="none">
        <path d={mk(xR, yTopR, d3.curveMonotoneX)(rightEtasUp) || ""} stroke={BLUE} strokeWidth={1} strokeDasharray={DASH} />
        <path d={mk(xR, yTopR, d3.curveMonotoneX)(rightEtasLo) || ""} stroke={BLUE} strokeWidth={1} strokeDasharray={DASH} />
        <path d={mk(xR, yTopR)(rightEtas) || ""} stroke={BLUE} strokeWidth={2.4} />
        <path d={mk(xR, yTopR)(rightObs) || ""} stroke="#000" strokeWidth={2.2} />
        <line x1={fsX} x2={fsX} y1={335} y2={TOP[1]} stroke="#000" strokeWidth={1.5} strokeDasharray={VDASH} />
        <line x1={msX} x2={msX} y1={258} y2={TOP[1]} stroke="#000" strokeWidth={1.5} strokeDasharray={VDASH} />
      </g>
      {yTicks(RX, yTopR, rightTopYTicks, "ytr", fmtInt)}
      {xTickMarks(xR, TOP, rightXTicks, "xtr")}
      {xTickMarks(xR, TOP, daysTickTau, "xtrt", true)}
      {frame(RX, TOP, "ftr")}
      {/* annotation boxes */}
      <rect x={msX - 33.5} y={244} width={58} height={14.5} rx={2.5} fill="#fff" stroke="#000" strokeWidth={1} />
      <text x={msX - 4.5} y={251.5} textAnchor="middle" dominantBaseline="central" fontFamily={MONO} fontSize={10} fill="#111">Mainshock</text>
      <rect x={fsX - 41} y={320.5} width={77} height={14.5} rx={2.5} fill="#fff" stroke="#000" strokeWidth={1} />
      <text x={fsX - 2.5} y={331.5} textAnchor="middle" fontFamily={MONO} fontSize={10} fill="#111">
        1<tspan dy={-4} fontSize={7} fontStyle="italic">st</tspan><tspan dy={4}> foreshock</tspan>
      </text>
      {/* legend b */}
      <rect x={733} y={69} width={230} height={28.5} rx={3} fill="#fff" fillOpacity={0.85} stroke="#d0d0d0" strokeWidth={1} />
      <line x1={738} x2={768} y1={83} y2={83} stroke={BLUE} strokeWidth={1} strokeDasharray={DASH} />
      <text x={780} y={88} fontFamily={MONO} fontSize={14.3} fill="#111">
        ETASI 99<tspan dy={-6} fontSize={10} fontStyle="italic">th</tspan><tspan dy={6}> percentile</tspan>
      </text>
      {/* top axis: days from mainshock */}
      {daysTickLabels.map((lab, i) => {
        const x = xR(daysTickTau[i]);
        const w = lab.length * 6;
        const cy = 56 - (w * 0.5 + 8.7) / 2;
        return (
          <text key={"dl" + i} x={x} y={cy} transform={`rotate(-30 ${x} ${cy})`} textAnchor="middle" dominantBaseline="central" fontFamily={MONO} fontSize={10} fill="#222">{lab}</text>
        );
      })}
      <text x={1326} y={36} textAnchor="end" fontFamily={MONO} fontSize={10} fill="#222">Days from mainshock</text>
      <text x={726} y={23} fontFamily={MONO} fontSize={14.3} fill="#111">b)</text>
      <text x={671} y={415} transform="rotate(-90 671 415)" dominantBaseline="central" fontFamily={MONO} fontSize={14.3} fill="#111">Observed cumulative number of</text>
      <text x={688} y={415} transform="rotate(-90 688 415)" dominantBaseline="central" fontFamily={MONO} fontSize={14.3} fill="#111">earthquake</text>

      {/* ---------- RIGHT MIDDLE ---------- */}
      {hGrid(RX, yMid, diffTicks, "gmr")}
      {vGrid(xR, MID, daysTickTau.slice(1), "vmr")}
      <line x1={xR(0)} x2={xR(0)} y1={MID[0]} y2={MID[1]} stroke="#555" strokeWidth={1.1} />
      <g clipPath="url(#cMR)" fill="none">
        <path d={mk(xR, yMid, d3.curveMonotoneX)(rightBUp) || ""} stroke={BLUE} strokeWidth={1} strokeDasharray={DASH} />
        <path d={mk(xR, yMid, d3.curveMonotoneX)(rightBLo) || ""} stroke={BLUE} strokeWidth={1} strokeDasharray={DASH} />
        <line x1={fsX} x2={fsX} y1={MID[0]} y2={MID[1]} stroke="#000" strokeWidth={1.5} strokeDasharray={VDASH} />
        <line x1={msX} x2={msX} y1={MID[0]} y2={MID[1]} stroke="#000" strokeWidth={1.5} strokeDasharray={VDASH} />
        <path d={mk(xR, yMid)(rightDiff) || ""} stroke="#000" strokeWidth={2.2} />
      </g>
      {yTicks(RX, yMid, diffTicks, "ymr", fmtInt)}
      {xTickMarks(xR, MID, rightXTicks, "xmr")}
      {frame(RX, MID, "fmr")}
      <text x={687} y={531} transform="rotate(-90 687 531)" textAnchor="middle" dominantBaseline="central" fontFamily={MONO} fontSize={14.3} fill="#111">Difference</text>

      {/* ---------- RIGHT BOTTOM ---------- */}
      {hGrid(RX, yMag, magTicks, "gbr")}
      {vGrid(xR, BOT, daysTickTau.slice(1), "vbr")}
      <line x1={xR(0)} x2={xR(0)} y1={BOT[0]} y2={BOT[1]} stroke="#777" strokeWidth={1.1} />
      <g clipPath="url(#cBR)">
        {dots(rightQuakes, xR, "qr")}
        <line x1={fsX} x2={fsX} y1={BOT[0]} y2={BOT[1]} stroke="#000" strokeWidth={1.5} strokeDasharray={VDASH} />
        <line x1={msX} x2={msX} y1={BOT[0]} y2={BOT[1]} stroke="#000" strokeWidth={1.5} strokeDasharray={VDASH} />
        <path d={star} transform={`translate(${msX},${yMag(mainshockMag)})`} fill="#00bcbc" stroke="#000" strokeWidth={1} />
      </g>
      {yTicks(RX, yMag, magTicks, "ybr", fmtMag)}
      {xTickMarks(xR, BOT, rightXTicks, "xbr")}
      {frame(RX, BOT, "fbr")}
      {xLabels(xR, rightXTicks, "rxl")}
      <text x={687} y={655} transform="rotate(-90 687 655)" textAnchor="middle" dominantBaseline="central" fontFamily={MONO} fontSize={14.3} fill="#111">Magnitude</text>
      <text x={726} y={722} fontFamily={MONO} fontSize={14.3} fill="#111">Expected cumulative number of earthquake (ETAS-I)</text>
      <text x={726} y={739} fontFamily={MONO} fontSize={14.3} fill="#111">Transformed time</text>
    </svg>
  );
}
